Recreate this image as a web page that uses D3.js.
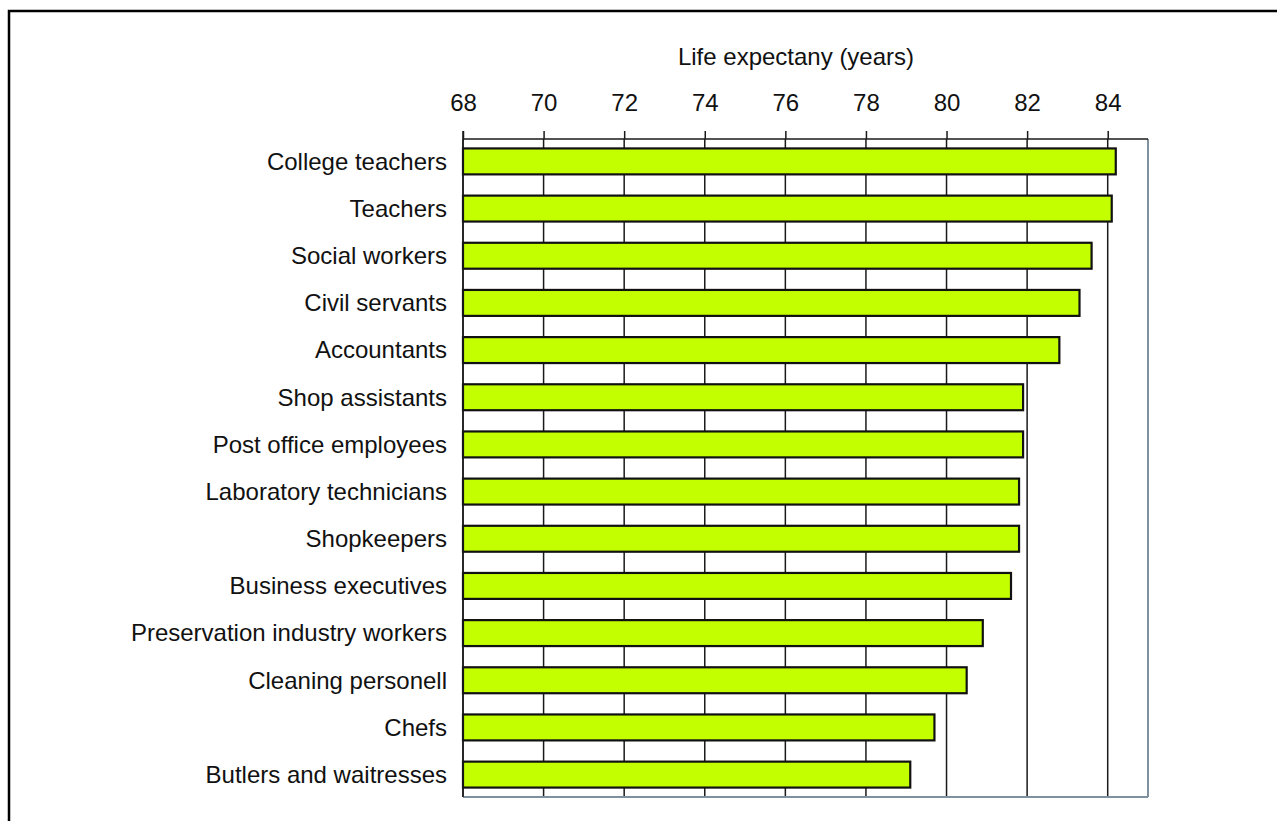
<!DOCTYPE html>
<html>
<head>
<meta charset="utf-8">
<script src="https://cdn.jsdelivr.net/npm/d3@7"></script>
<style>
  body { margin: 0; background: #fff; }
  text { font-family: "Liberation Sans", Arial, sans-serif; fill: #111; }
</style>
</head>
<body>
<div id="chart-area"></div>
<script>
// data
var occupations = ["College teachers", "Teachers", "Social workers", "Civil servants",
    "Accountants", "Shop assistants", "Post office employees", "Laboratory technicians",
    "Shopkeepers", "Business executives", "Preservation industry workers",
    "Cleaning personell", "Chefs", "Butlers and waitresses"];
var lifeExp = [84.2, 84.1, 83.6, 83.3, 82.8, 81.9, 81.9, 81.8, 81.8, 81.6, 80.9, 80.5, 79.7, 79.1];
var tickValues = [68, 70, 72, 74, 76, 78, 80, 82, 84];

var width = 1277;
var height = 821;

var svg = d3.select("#chart-area")
    .append("svg")
    .attr("width", width)
    .attr("height", height);

// frame round the picture (only top and left visible)
svg.append("rect")
    .attr("x", 9)
    .attr("y", 11)
    .attr("width", 1300)
    .attr("height", 900)
    .attr("fill", "none")
    .attr("stroke", "#000")
    .attr("stroke-width", 2.5);

var plotLeft = 463, plotTop = 139, plotRight = 1148, plotBottom = 797;

var x = d3.scaleLinear()
    .domain([68, 85])
    .range([plotLeft, plotRight]);

var y = d3.scaleBand()
    .domain(occupations)
    .range([plotTop, plotBottom])
    .paddingInner(0.45)
    .paddingOuter(0.2);

// grid lines
svg.append("g")
    .selectAll("line")
    .data(tickValues)
    .enter()
    .append("line")
        .attr("x1", function(d) { return x(d); })
        .attr("x2", function(d) { return x(d); })
        .attr("y1", plotTop)
        .attr("y2", plotBottom)
        .attr("stroke", "#1a1a1a")
        .attr("stroke-width", 1.5);

// plot border: gray right & bottom, black top
svg.append("line")
    .attr("x1", plotRight).attr("x2", plotRight)
    .attr("y1", plotTop).attr("y2", plotBottom)
    .attr("stroke", "#7f909f").attr("stroke-width", 2);
svg.append("line")
    .attr("x1", plotLeft).attr("x2", plotRight)
    .attr("y1", plotBottom).attr("y2", plotBottom)
    .attr("stroke", "#7f909f").attr("stroke-width", 2);
svg.append("line")
    .attr("x1", plotLeft).attr("x2", plotRight)
    .attr("y1", plotTop).attr("y2", plotTop)
    .attr("stroke", "#1a1a1a").attr("stroke-width", 1.5);

// top axis
var xAxisCall = d3.axisTop(x)
    .tickValues(tickValues)
    .tickSize(8)
    .tickSizeOuter(0)
    .tickPadding(20);

var xAxisGroup = svg.append("g")
    .attr("class", "x axis")
    .attr("transform", "translate(0," + plotTop + ")")
    .call(xAxisCall);

xAxisGroup.select(".domain").remove();
xAxisGroup.selectAll("line")
    .attr("stroke", "#1a1a1a")
    .attr("stroke-width", 1.5);
xAxisGroup.selectAll("text")
    .attr("font-size", "24px")
    .attr("font-family", "Liberation Sans, Arial, sans-serif")
    .attr("fill", "#111");

svg.append("text")
    .attr("x", 796)
    .attr("y", 65)
    .attr("font-size", "24px")
    .attr("text-anchor", "middle")
    .text("Life expectany (years)");

// bars
svg.append("g")
    .selectAll("rect")
    .data(lifeExp)
    .enter()
    .append("rect")
        .attr("x", x(68))
        .attr("y", function(d, i) { return y(occupations[i]); })
        .attr("width", function(d) { return x(d) - x(68); })
        .attr("height", y.bandwidth())
        .attr("fill", "#c4ff00")
        .attr("stroke", "#111")
        .attr("stroke-width", 2.2);

// left axis line
svg.append("line")
    .attr("x1", plotLeft).attr("x2", plotLeft)
    .attr("y1", plotTop - 8).attr("y2", plotBottom)
    .attr("stroke", "#1a1a1a").attr("stroke-width", 1.5);

// category labels
svg.append("g")
    .selectAll("text")
    .data(occupations)
    .enter()
    .append("text")
        .attr("x", 447)
        .attr("y", function(d) { return y(d) + y.bandwidth() / 2; })
        .attr("dy", "0.35em")
        .attr("font-size", "24px")
        .attr("text-anchor", "end")
        .text(function(d) { return d; });
</script>
</body>
</html>
